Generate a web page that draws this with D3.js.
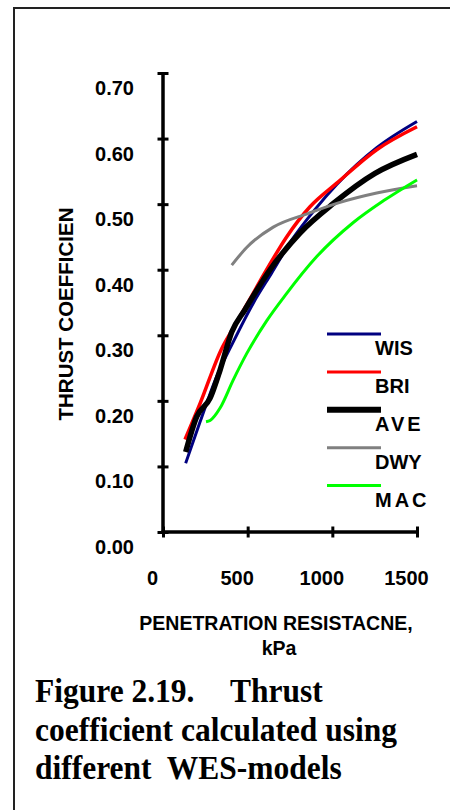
<!DOCTYPE html>
<html>
<head>
<meta charset="utf-8">
<script src="https://cdn.jsdelivr.net/npm/d3@7/dist/d3.min.js"></script>
<style>
  html, body { margin: 0; padding: 0; background: #fff; }
  svg { display: block; }
</style>
</head>
<body>
<div id="chart"></div>
<script>
// series (x = kPa, y = thrust coefficient)
const seriesNames = ['WIS', 'BRI', 'AVE', 'DWY', 'MAC'];
const wisX = [134, 219, 317, 415, 533, 642, 760, 898, 1026, 1262, 1500];
const wisY = [0.105, 0.168, 0.237, 0.290, 0.349, 0.395, 0.445, 0.492, 0.530, 0.586, 0.626];
const briX = [130, 219, 347, 415, 504, 612, 730, 868, 1026, 1262, 1500];
const briY = [0.141, 0.196, 0.280, 0.311, 0.351, 0.400, 0.450, 0.496, 0.532, 0.583, 0.618];
const aveX = [134, 199, 278, 337, 406, 484, 632, 809, 1006, 1252, 1500];
const aveY = [0.122, 0.176, 0.204, 0.247, 0.305, 0.339, 0.400, 0.456, 0.501, 0.547, 0.576];
const dwyX = [406, 494, 651, 859, 1036, 1262, 1500];
const dwyY = [0.407, 0.434, 0.465, 0.486, 0.502, 0.517, 0.528];
const macX = [254, 278, 337, 415, 494, 612, 725, 908, 1124, 1301, 1500];
const macY = [0.168, 0.170, 0.189, 0.232, 0.272, 0.322, 0.362, 0.420, 0.472, 0.505, 0.537];

const xTicks = [0, 500, 1000, 1500];
const yTicks = [0, 0.1, 0.2, 0.3, 0.4, 0.5, 0.6, 0.7];

const colors = { WIS: '#000080', BRI: '#ff0000', AVE: '#000000', DWY: '#808080', MAC: '#00ff00' };
const widths = { WIS: 3, BRI: 3.5, AVE: 5.5, DWY: 3, MAC: 3 };
const legendWidths = { WIS: 3, BRI: 3, AVE: 6, DWY: 3, MAC: 3 };
const legendSpacing = { WIS: 0, BRI: 0, AVE: 3, DWY: 0, MAC: 3 };

const xs = { WIS: wisX, BRI: briX, AVE: aveX, DWY: dwyX, MAC: macX };
const ys = { WIS: wisY, BRI: briY, AVE: aveY, DWY: dwyY, MAC: macY };

const W = 450, H = 810;
const sans = '"Liberation Sans", Arial, sans-serif';
const serif = '"Liberation Serif", "Times New Roman", serif';
const capStretch = 1.08; // caption glyphs are a little taller than normal

const svg = d3.select('#chart').append('svg')
  .attr('width', W).attr('height', H);

// outer frame (runs off the right and bottom edge)
svg.append('rect')
  .attr('x', 14).attr('y', 8)
  .attr('width', 460).attr('height', 830)
  .attr('fill', 'none').attr('stroke', '#222').attr('stroke-width', 2);

const x = d3.scaleLinear().domain([0, 1500]).range([163, 417]);
const y = d3.scaleLinear().domain([0, 0.7]).range([532, 73]);

// y axis, ticks cross the axis line
const yAxis = d3.axisLeft(y).tickValues(yTicks).tickSize(11).tickFormat(d3.format('.2f'));
const gy = svg.append('g').attr('transform', `translate(${x(0) + 5.5},0)`).call(yAxis);
gy.select('.domain').remove();
gy.selectAll('.tick line').attr('stroke', '#000').attr('stroke-width', 3);
gy.selectAll('.tick text')
  .attr('x', 134 - x(0) - 5.5).attr('y', 21.5).attr('dy', null)
  .attr('text-anchor', 'end')
  .attr('fill', '#000')
  .style('font-family', sans).style('font-weight', 'bold').style('font-size', '20px');

svg.append('line')
  .attr('x1', x(0)).attr('x2', x(0))
  .attr('y1', y(0.7) - 1).attr('y2', y(0) + 1.5)
  .attr('stroke', '#000').attr('stroke-width', 3.5);

// x axis
const xAxis = d3.axisBottom(x).tickValues(xTicks).tickSize(11).tickFormat(d3.format('d'));
const gx = svg.append('g').attr('transform', `translate(0,${y(0) - 5.5})`).call(xAxis);
gx.select('.domain').remove();
gx.selectAll('.tick line').attr('stroke', '#000').attr('stroke-width', 3);
gx.selectAll('.tick text')
  .attr('x', -11).attr('y', 58).attr('dy', null)
  .attr('text-anchor', 'middle')
  .attr('fill', '#000')
  .style('font-family', sans).style('font-weight', 'bold').style('font-size', '20px');

svg.append('line')
  .attr('x1', x(0) - 1.5).attr('x2', x(1500) + 1.5)
  .attr('y1', y(0)).attr('y2', y(0))
  .attr('stroke', '#000').attr('stroke-width', 3.5);

// curves
const line = d3.line()
  .x(d => x(d[0]))
  .y(d => y(d[1]))
  .curve(d3.curveMonotoneX);

seriesNames.forEach(name => {
  const pts = xs[name].map((v, i) => [v, ys[name][i]]);
  svg.append('path')
    .datum(pts)
    .attr('d', line)
    .attr('fill', 'none')
    .attr('stroke', colors[name])
    .attr('stroke-width', widths[name])
    .attr('stroke-linejoin', 'round');
});

// legend
const leg = svg.append('g').attr('transform', 'translate(327,334)');
seriesNames.forEach((name, i) => {
  const g = leg.append('g').attr('transform', `translate(0,${i * 37.9})`);
  g.append('line')
    .attr('x1', 0).attr('x2', 54)
    .attr('stroke', colors[name]).attr('stroke-width', legendWidths[name]);
  g.append('text')
    .attr('x', 48).attr('y', 21)
    .style('font-family', sans).style('font-weight', 'bold').style('font-size', '20px')
    .style('letter-spacing', legendSpacing[name] + 'px')
    .text(name);
});

// axis titles
svg.append('text')
  .attr('transform', 'translate(73,314) rotate(-90)')
  .attr('text-anchor', 'middle')
  .style('font-family', sans).style('font-weight', 'bold').style('font-size', '20.5px')
  .text('THRUST COEFFICIEN');

svg.append('text')
  .attr('x', 276).attr('y', 630)
  .attr('text-anchor', 'middle')
  .style('font-family', sans).style('font-weight', 'bold').style('font-size', '19.5px')
  .text('PENETRATION RESISTACNE,');

svg.append('text')
  .attr('x', 279).attr('y', 655)
  .attr('text-anchor', 'middle')
  .style('font-family', sans).style('font-weight', 'bold').style('font-size', '19.5px')
  .text('kPa');

// caption
const cap = [
  { t: 'Figure 2.19.', x: 35, y: 702 },
  { t: 'Thrust', x: 230, y: 702 },
  { t: 'coefficient calculated using', x: 35, y: 741 },
  { t: 'different  WES-models', x: 35, y: 779 }
];
cap.forEach(c => {
  svg.append('text')
    .attr('transform', `translate(${c.x},${c.y}) scale(1,${capStretch})`)
    .style('font-family', serif).style('font-weight', 'bold').style('font-size', '31.5px')
    .style('white-space', 'pre')
    .text(c.t);
});
</script>
</body>
</html>
